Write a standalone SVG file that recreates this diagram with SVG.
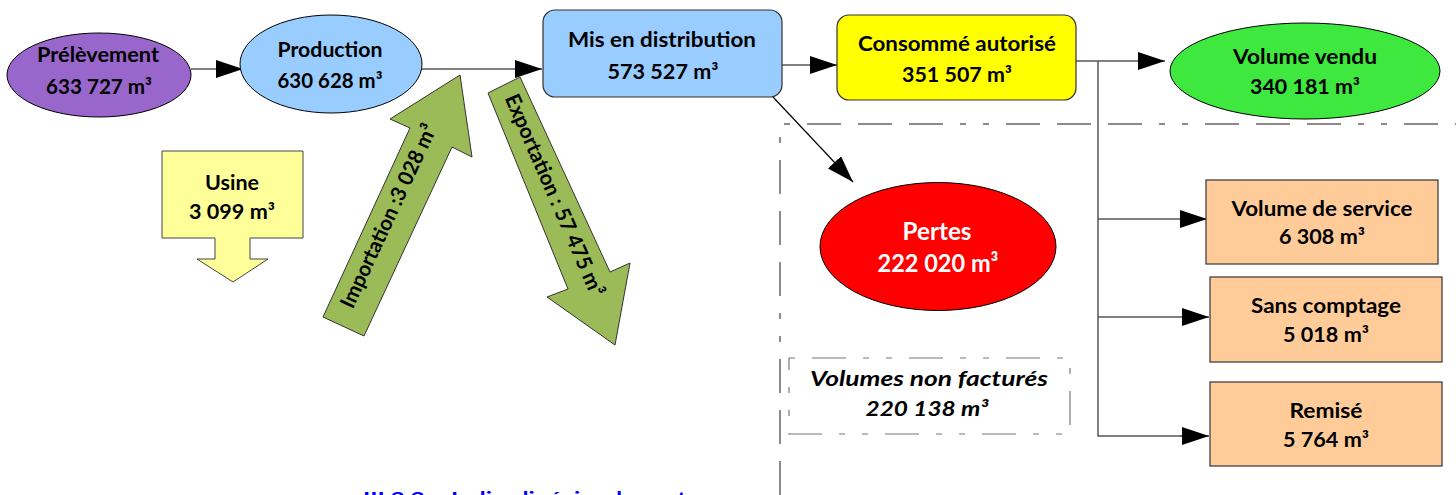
<svg xmlns="http://www.w3.org/2000/svg" width="1456" height="495" viewBox="0 0 1456 495">
<style>
.t{font-family:Lato,"Open Sans","Liberation Sans",sans-serif;font-weight:bold;font-size:21px;fill:#000;text-anchor:middle}
.big{font-size:24px;fill:#fff}
.it{font-style:italic}
.node{stroke:#000;stroke-width:1}
.rect{stroke:#333;stroke-width:1.2}
.conn{fill:none;stroke:#000;stroke-width:1.2}
.bus{fill:none;stroke:#555;stroke-width:1.5}
.frame{fill:none;stroke:#666;stroke-width:1.5;stroke-dasharray:34 17 34 17 34 17 6 17 6 17}
.frame2{fill:none;stroke:#777;stroke-width:1.2;stroke-dasharray:6 17 34 17 6 17}
.green{fill:#9bbb59;stroke:#333;stroke-width:1}
</style>
<defs>
<marker id="ah" markerUnits="userSpaceOnUse" markerWidth="27" markerHeight="18" refX="27" refY="9" orient="auto">
<path d="M0,0 L27,9 L0,18 z" fill="#000"/>
</marker>
</defs>

<g id="frame">
<path class="frame" d="M780,495 L780,124 L1456,124"/>
</g>

<g id="connectors">
<line class="conn" x1="191" y1="69" x2="243" y2="69" marker-end="url(#ah)"/>
<line class="conn" x1="422" y1="69" x2="542" y2="69" marker-end="url(#ah)"/>
<line class="conn" x1="782" y1="65" x2="837" y2="65" marker-end="url(#ah)"/>
<line class="conn" x1="773" y1="97" x2="853" y2="182" marker-end="url(#ah)"/>
<line class="conn" x1="1076" y1="61" x2="1165" y2="61" marker-end="url(#ah)"/>
<path class="bus" d="M1098,61 L1098,436 L1207,436"/>
<line class="bus" x1="1098" y1="219" x2="1207" y2="219" marker-end="url(#ah)"/>
<line class="bus" x1="1098" y1="317" x2="1209" y2="317" marker-end="url(#ah)"/>
<line class="bus" x1="1180" y1="436" x2="1209" y2="436" marker-end="url(#ah)"/>
</g>

<g id="prelevement">
<ellipse class="node" cx="99" cy="75" rx="92" ry="42" fill="#9966cc"/>
<text class="t" x="98" y="62" textLength="122" lengthAdjust="spacingAndGlyphs">Prélèvement</text>
<text class="t" x="99" y="94" textLength="106" lengthAdjust="spacingAndGlyphs">633 727 m³</text>
</g>

<g id="production">
<ellipse class="node" cx="331" cy="64" rx="91" ry="49" fill="#99ccff"/>
<text class="t" x="330" y="57" textLength="105" lengthAdjust="spacingAndGlyphs">Production</text>
<text class="t" x="330" y="88" textLength="105" lengthAdjust="spacingAndGlyphs">630 628 m³</text>
</g>

<g id="distribution">
<rect class="rect" x="543" y="10" width="239" height="87" rx="12" fill="#99ccff"/>
<text class="t" x="662" y="47" textLength="188" lengthAdjust="spacingAndGlyphs">Mis en distribution</text>
<text class="t" x="663" y="79" textLength="111" lengthAdjust="spacingAndGlyphs">573 527 m³</text>
</g>

<g id="consomme">
<rect class="rect" x="837" y="15" width="239" height="85" rx="12" fill="#ffff00"/>
<text class="t" x="957" y="51" textLength="198" lengthAdjust="spacingAndGlyphs">Consommé autorisé</text>
<text class="t" x="957" y="82" textLength="110" lengthAdjust="spacingAndGlyphs">351 507 m³</text>
</g>

<g id="vendu">
<ellipse class="node" cx="1305" cy="71" rx="135" ry="48" fill="#3ee83e"/>
<text class="t" x="1305" y="64" textLength="144" lengthAdjust="spacingAndGlyphs">Volume vendu</text>
<text class="t" x="1305" y="94" textLength="110" lengthAdjust="spacingAndGlyphs">340 181 m³</text>
</g>

<g id="usine">
<path d="M162,151 L303,151 L303,238 L250,238 L250,259 L268,259 L233,282 L197,259 L215,259 L215,238 L162,238 Z" fill="#ffff99" stroke="#444" stroke-width="1"/>
<text class="t" x="232" y="190" textLength="54" lengthAdjust="spacingAndGlyphs">Usine</text>
<text class="t" x="232" y="219" textLength="86" lengthAdjust="spacingAndGlyphs">3 099 m³</text>
</g>

<g id="importation">
<polygon class="green" points="323,317 410,128 390,119 460,75 472,157 452,147 364,336"/>
<text class="t" x="0" y="0" font-size="19" transform="translate(395,219) rotate(-65)" textLength="200" lengthAdjust="spacingAndGlyphs">Importation :3 028 m³</text>
</g>

<g id="exportation">
<polygon class="green" points="488,93 520,77 610,272 630,263 615,345 547,297 568,289"/>
<text class="t" x="0" y="0" font-size="19" transform="translate(548,198) rotate(66.5)" textLength="218" lengthAdjust="spacingAndGlyphs">Exportation : 57 475 m³</text>
</g>

<g id="pertes">
<ellipse class="node" cx="938" cy="246.5" rx="118" ry="64" fill="#ff0000"/>
<text class="t big" x="937" y="240" textLength="69" lengthAdjust="spacingAndGlyphs">Pertes</text>
<text class="t big" x="938" y="272" textLength="121" lengthAdjust="spacingAndGlyphs">222 020 m³</text>
</g>

<g id="nonfactures">
<rect class="frame2" x="789" y="358" width="281" height="76"/>
<text class="t it" x="929" y="386" textLength="238" lengthAdjust="spacingAndGlyphs">Volumes non facturés</text>
<text class="t it" x="927" y="416" textLength="123" lengthAdjust="spacingAndGlyphs">220 138 m³</text>
</g>

<g id="service">
<rect class="rect" x="1206" y="180" width="232" height="84" fill="#ffcc99"/>
<text class="t" x="1322" y="216" textLength="181" lengthAdjust="spacingAndGlyphs">Volume de service</text>
<text class="t" x="1322" y="244" textLength="86" lengthAdjust="spacingAndGlyphs">6 308 m³</text>
</g>

<g id="sanscomptage">
<rect class="rect" x="1210" y="277" width="232" height="85" fill="#ffcc99"/>
<text class="t" x="1326" y="313" textLength="150" lengthAdjust="spacingAndGlyphs">Sans comptage</text>
<text class="t" x="1326" y="342" textLength="86" lengthAdjust="spacingAndGlyphs">5 018 m³</text>
</g>

<g id="remise">
<rect class="rect" x="1210" y="382" width="232" height="84" fill="#ffcc99"/>
<text class="t" x="1326" y="418" textLength="73" lengthAdjust="spacingAndGlyphs">Remisé</text>
<text class="t" x="1326" y="447" textLength="86" lengthAdjust="spacingAndGlyphs">5 764 m³</text>
</g>

<g id="caption">
<text x="363" y="504" font-family="Lato,'Liberation Sans',sans-serif" font-weight="bold" font-size="17" fill="#0000ff" textLength="347" lengthAdjust="spacingAndGlyphs">III.2.2 – Indice linéaire de pertes</text>
</g>
</svg>
